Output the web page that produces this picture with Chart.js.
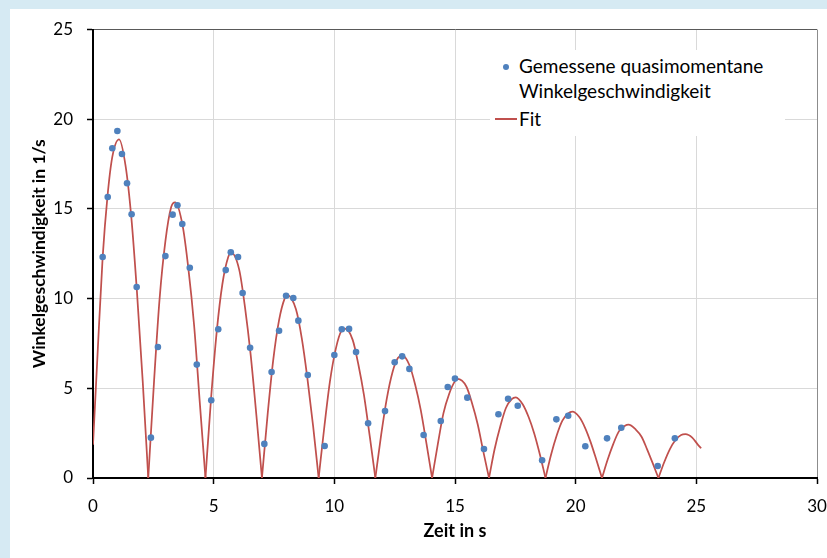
<!DOCTYPE html>
<html>
<head>
<meta charset="utf-8">
<script src="https://cdn.jsdelivr.net/npm/chart.js@4.4.1/dist/chart.umd.min.js"></script>
<style>
html,body{margin:0;padding:0;}
body{background:#d6eaf3;width:827px;height:558px;position:relative;overflow:hidden;font-family:Lato,sans-serif;color:#000;}
#frame{position:absolute;left:10px;top:9px;width:817px;height:549px;background:#fff;}
#legend{position:absolute;left:490px;top:50px;width:295px;height:86px;background:#fff;}
#legend .dot{position:absolute;left:13px;top:13.7px;width:6px;height:6px;border-radius:50%;background:#4f81bd;}
#legend .lab{position:absolute;left:29px;font-size:19px;line-height:25px;white-space:nowrap;}
#legend .fline{position:absolute;left:5px;top:68.3px;width:22px;height:1.5px;background:#c0504d;}
</style>
</head>
<body>
<div id="frame"><canvas id="chart" width="817" height="549"></canvas></div>
<div id="legend">
<div class="dot"></div>
<div class="lab" style="top:3px">Gemessene quasimomentane<br>Winkelgeschwindigkeit</div>
<div class="fline"></div>
<div class="lab" style="top:56px">Fit</div>
</div>
<script>

/* -------- DATA -------- */

const measuredTime = [0.40,0.61,0.80,1.01,1.20,1.41,1.60,1.81,2.40,2.69,3.00,3.30,3.50,3.70,4.01,4.30,
4.90,5.19,5.50,5.71,6.01,6.20,6.51,7.10,7.40,7.71,8.00,8.30,8.51,8.90,9.60,10.00,10.31,10.61,10.90,
11.40,12.10,12.50,12.81,13.11,13.70,14.41,14.70,15.00,15.51,16.20,16.80,17.20,17.60,18.61,19.20,
19.69,20.40,21.30,21.89,23.40,24.11];
const measuredOmega = [12.32,15.66,18.38,19.34,18.06,16.43,14.70,10.65,2.25,7.30,12.37,14.68,15.20,14.16,11.72,6.32,
4.33,8.29,11.59,12.58,12.32,10.31,7.26,1.90,5.91,8.21,10.16,10.03,8.77,5.74,1.78,6.86,8.29,8.31,7.02,
3.05,3.73,6.45,6.78,6.08,2.40,3.18,5.07,5.54,4.48,1.62,3.55,4.42,4.03,0.99,3.27,
3.47,1.77,2.21,2.80,0.67,2.21];

const fitTime = [0,0.20,0.40,0.60,0.80,1.08,1.35,1.59,1.82,2.06,2.29,
2.53,2.76,3.00,3.24,3.40,3.71,3.95,4.19,4.42,4.66,
4.89,5.13,5.36,5.60,5.72,6.06,6.30,6.53,6.77,7.00,
7.24,7.47,7.71,7.94,8.05,8.41,8.65,8.88,9.12,9.35,
9.59,9.82,10.06,10.29,10.44,10.76,11.00,11.23,11.47,11.70,
11.94,12.17,12.41,12.64,12.82,13.11,13.35,13.58,13.82,14.05,
14.29,14.52,14.76,15.00,15.10,15.47,15.70,15.94,16.17,16.41,
16.64,16.88,17.11,17.35,17.52,17.81,18.05,18.28,18.52,18.75,
18.98,19.22,19.45,19.69,19.86,20.15,20.39,20.62,20.86,21.09,
21.32,21.56,21.79,22.03,22.19,22.49,22.73,22.96,23.20,23.43,
23.66,23.90,24.13,24.37,24.55,24.83,25.07,25.20];
const fitOmega = [1.85,7.2,12.3,15.7,17.9,18.88,17.4,14.5,10.4,5.4,0,
5.4,10.0,13.2,15.1,15.37,14.1,11.7,8.5,4.3,0,
4.4,8.2,10.8,12.3,12.56,11.6,9.5,6.9,3.5,0,
3.6,6.6,8.8,10.0,10.2,9.4,7.8,5.6,2.9,0,
2.9,5.4,7.2,8.2,8.32,7.7,6.3,4.6,2.3,0,
2.4,4.4,5.9,6.7,6.82,6.3,5.2,3.8,1.9,0,
1.9,3.6,4.7,5.4,5.52,5.1,4.2,3.0,1.5,0,
1.6,2.9,3.9,4.4,4.50,4.1,3.4,2.5,1.3,0,
1.3,2.4,3.2,3.6,3.70,3.4,2.8,2.0,1.0,0,
1.0,1.9,2.6,2.9,2.97,2.7,2.3,1.6,0.8,0,
0.85,1.6,2.1,2.4,2.44,2.25,1.85,1.66];

const xTicks = [0,5,10,15,20,25,30];
const yTicks = [0,5,10,15,20,25];

/* -------- FIT ARCHES (split at the zeros, so the cusps stay sharp) -------- */

let arches = [];
let cur = [];
fitTime.forEach((t,i)=>{
const p = {x:t,y:fitOmega[i]};
cur.push(p);
if(fitOmega[i] === 0 && cur.length > 1){
arches.push(cur);
cur = [p];
}
});
if(cur.length > 1) arches.push(cur);

const fitSets = arches.map(a=>({
label:"Fit",
data:a,
showLine:true,
borderColor:"#c0504d",
borderWidth:1.75,
pointRadius:0,
cubicInterpolationMode:"monotone",
tension:0.4,
order:1
}));

/* -------- CHART -------- */

const ctx = document.getElementById("chart").getContext("2d");

new Chart(ctx,{
type:"scatter",
data:{
datasets:[
{
label:"Gemessene quasimomentane Winkelgeschwindigkeit",
data:measuredTime.map((t,i)=>({x:t,y:measuredOmega[i]})),
backgroundColor:"#4f81bd",
borderWidth:0,
pointRadius:3.3,
order:0
},
...fitSets
]
},
options:{
responsive:false,
animation:false,
devicePixelRatio:1,
layout:{padding:{top:20.5,right:10,left:0,bottom:0}},
plugins:{legend:{display:false},tooltip:{enabled:false}},
scales:{
x:{
type:"linear",
min:0,
max:30,
afterBuildTicks:s=>{ s.ticks = xTicks.map(v=>({value:v})); },
afterFit:s=>{ s.height = 80; s.paddingLeft = 0; s.paddingRight = 0; },
grid:{
color:c=>(c.tick && c.tick.value === 30) ? "#8c8c8c" : "#d9d9d9",
lineWidth:1,
tickColor:"#000",
tickLength:6,
tickWidth:1.5
},
border:{color:"#000",width:2},
ticks:{color:"#000",font:{family:"Lato",size:17},padding:12,maxRotation:0},
title:{display:true,text:"Zeit in s",color:"#000",font:{family:"Lato",size:18,weight:"bold"},padding:{top:0,bottom:16}}
},
y:{
type:"linear",
min:0,
max:25,
afterBuildTicks:s=>{ s.ticks = yTicks.map(v=>({value:v})); },
afterFit:s=>{ s.width = 83; s.paddingTop = 0; s.paddingBottom = 0; },
grid:{
color:c=>(c.tick && c.tick.value === 25) ? "#595959" : "#d9d9d9",
lineWidth:1,
tickColor:"#000",
tickLength:6,
tickWidth:1.5
},
border:{color:"#000",width:2},
ticks:{color:"#000",font:{family:"Lato",size:17},padding:14},
title:{display:true,text:"Winkelgeschwindigkeit in 1/s",color:"#000",font:{family:"Lato",size:17.5,weight:"bold"},padding:{top:19,bottom:0}}
}
}
}
});

</script>
</body>
</html>
